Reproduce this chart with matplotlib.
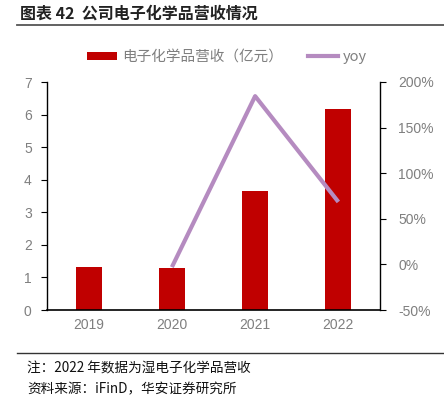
import matplotlib
matplotlib.use("Agg")
import matplotlib.pyplot as plt
from matplotlib.lines import Line2D
from matplotlib.patches import Patch
import numpy as np

plt.rcParams['font.family'] = ['Liberation Sans Narrow', 'Liberation Sans', 'Noto Sans CJK SC', 'DejaVu Sans']

years = ["2019", "2020", "2021", "2022"]
revenue = [1.32, 1.28, 3.65, 6.16]          # 亿元
yoy = [None, -3.0, 184.5, 68.5]             # %
left_ticks = [0, 1, 2, 3, 4, 5, 6, 7]
right_ticks = [-50, 0, 50, 100, 150, 200]

title = "图表 42  公司电子化学品营收情况"
legend_bar = "电子化学品营收（亿元）"
legend_line = "yoy"
note = "注：2022 年数据为湿电子化学品营收"
source = "资料来源：iFinD，华安证券研究所"

BAR = "#C00000"
LINE = "#B58BC0"
GRAY = "#7F7F7F"
CJK = ['Noto Sans CJK SC', 'DejaVu Sans']

fig = plt.figure(figsize=(4.44, 3.96), dpi=100)
ax = fig.add_axes([47/444, 1-310/396, (380-47)/444, (310-82)/396])
x = np.arange(len(years))
ax.bar(x, revenue, width=0.31, color=BAR, zorder=2)
ax.set_xlim(-0.5, len(years)-0.5)
ax.set_ylim(0, 7)
ax.set_yticks(left_ticks)
ax.set_xticks(x)
ax.set_xticklabels(years)
for s in ['top', 'right']:
    ax.spines[s].set_visible(False)
ax.spines['left'].set_linewidth(1.0)
ax.spines['bottom'].set_linewidth(1.2)
ax.tick_params(axis='y', colors='black', labelcolor=GRAY, labelsize=10, length=4, width=0.8, pad=7)
ax.tick_params(axis='x', length=0, labelcolor=GRAY, labelsize=10, pad=6)

ax2 = ax.twinx()
xs = [i for i, v in enumerate(yoy) if v is not None]
vs = [v for v in yoy if v is not None]
ax2.plot(xs, vs, color=LINE, lw=3, solid_capstyle='butt', zorder=3)
ax2.set_ylim(-50, 200)
ax2.set_yticks(right_ticks)
ax2.set_yticklabels([f"{t}%" for t in right_ticks])
for s in ['top', 'left', 'bottom']:
    ax2.spines[s].set_visible(False)
ax2.spines['right'].set_linewidth(1.0)
ax2.tick_params(axis='y', colors='black', labelcolor=GRAY, labelsize=10, length=4, width=0.8, pad=9)

# legend
handles = [Patch(facecolor=BAR, edgecolor='none'), Line2D([0], [0], color=LINE, lw=3)]
leg = fig.legend(handles, [legend_bar, legend_line], loc='center', bbox_to_anchor=(0.511, 1-57/396),
                 ncol=2, frameon=False, handlelength=2.05, handleheight=0.45,
                 columnspacing=1.7, handletextpad=0.35, prop={'family': CJK, 'size': 10.5})
for t in leg.get_texts():
    t.set_color(GRAY)

# title and rules
fig.text(20/444, 1-14/396, title, fontsize=11.5, fontweight='bold', va='center', ha='left',
         family=CJK, color='#222222')
fig.add_artist(Line2D([17/444, 1.0], [1-25/396, 1-25/396], color='#555555', lw=1.3))
fig.add_artist(Line2D([17/444, 1.0], [1-353/396, 1-353/396], color='#333333', lw=1.0))
fig.text(27/444, 1-368/396, note, fontsize=9.8, va='center', ha='left', family=CJK, color='#111111')
fig.text(27/444, 1-389/396, source, fontsize=9.8, va='center', ha='left', family=CJK, color='#111111')

fig.savefig("out.png", dpi=100)
